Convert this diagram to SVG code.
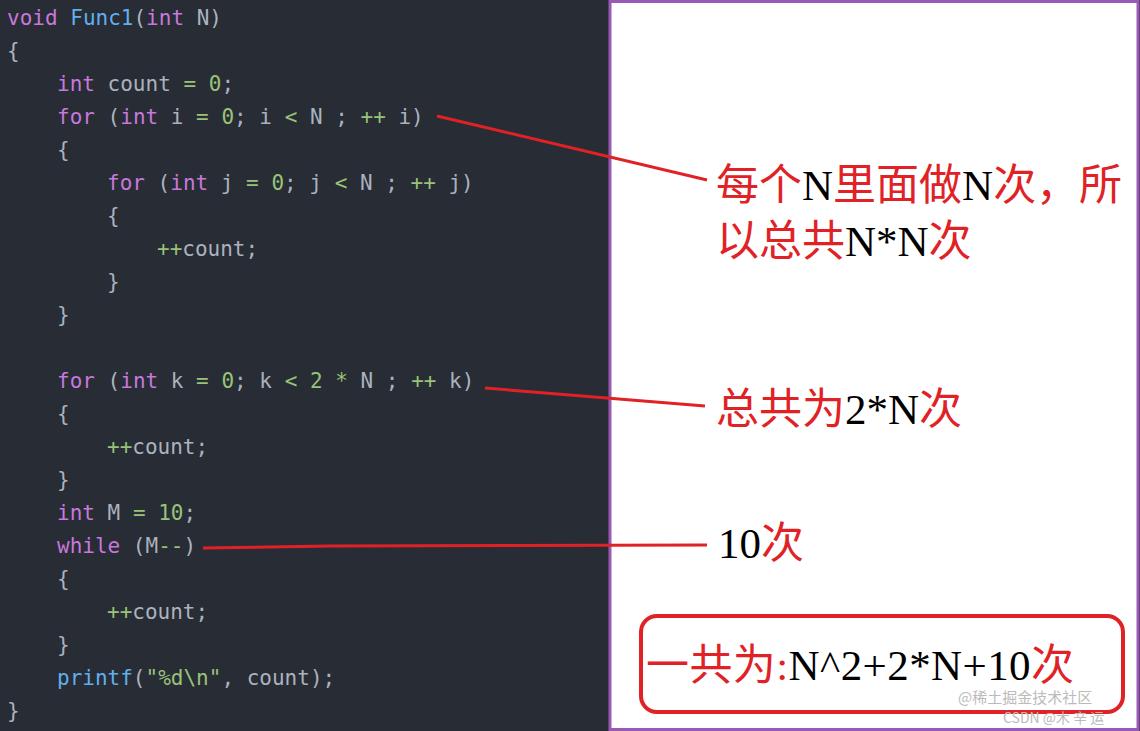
<svg xmlns="http://www.w3.org/2000/svg" width="1140" height="731" viewBox="0 0 1140 731">
<style>
.c{font-family:"DejaVu Sans Mono","Liberation Mono",monospace;font-size:21px;fill:#abb2bf;white-space:pre}
.k{fill:#c678dd}.f{fill:#61afef}.n{fill:#98c379}
.a{font-family:"Liberation Serif","Noto Sans CJK SC",serif;font-size:43px;fill:#000}
.r{fill:#e02226}
.ln{stroke:#e02226;stroke-width:3;fill:none}
</style>
<rect width="1140" height="731" fill="#282c34"/>
<rect x="610" y="1.5" width="528" height="728" fill="#fff" stroke="#9b59b6" stroke-width="3"/>
<g id="code">
<text class="c" x="7" y="25"><tspan class="k">void</tspan> <tspan class="f">Func1</tspan>(<tspan class="k">int</tspan> N)</text>
<text class="c" x="7" y="58">{</text>
<text class="c" x="57" y="91"><tspan class="k">int</tspan> count <tspan class="n">=</tspan> <tspan class="n">0</tspan>;</text>
<text class="c" x="57" y="124"><tspan class="k">for</tspan> (<tspan class="k">int</tspan> i <tspan class="n">=</tspan> <tspan class="n">0</tspan>; i <tspan class="n">&lt;</tspan> N ; <tspan class="n">++</tspan> i)</text>
<text class="c" x="57" y="157">{</text>
<text class="c" x="107" y="190"><tspan class="k">for</tspan> (<tspan class="k">int</tspan> j <tspan class="n">=</tspan> <tspan class="n">0</tspan>; j <tspan class="n">&lt;</tspan> N ; <tspan class="n">++</tspan> j)</text>
<text class="c" x="107" y="223">{</text>
<text class="c" x="157" y="256"><tspan class="n">++</tspan>count;</text>
<text class="c" x="107" y="289">}</text>
<text class="c" x="57" y="322">}</text>
<text class="c" x="57" y="388"><tspan class="k">for</tspan> (<tspan class="k">int</tspan> k <tspan class="n">=</tspan> <tspan class="n">0</tspan>; k <tspan class="n">&lt;</tspan> <tspan class="n">2</tspan> <tspan class="n">*</tspan> N ; <tspan class="n">++</tspan> k)</text>
<text class="c" x="57" y="421">{</text>
<text class="c" x="107" y="454"><tspan class="n">++</tspan>count;</text>
<text class="c" x="57" y="487">}</text>
<text class="c" x="57" y="520"><tspan class="k">int</tspan> M <tspan class="n">=</tspan> <tspan class="n">10</tspan>;</text>
<text class="c" x="57" y="553"><tspan class="k">while</tspan> (M<tspan class="n">--</tspan>)</text>
<text class="c" x="57" y="586">{</text>
<text class="c" x="107" y="619"><tspan class="n">++</tspan>count;</text>
<text class="c" x="57" y="652">}</text>
<text class="c" x="57" y="685"><tspan class="f">printf</tspan>(<tspan class="n">"%d\n"</tspan>, count);</text>
<text class="c" x="7" y="718">}</text>
</g>
<g id="connectors">
<line class="ln" x1="437" y1="116" x2="707" y2="180"/>
<line class="ln" x1="485" y1="388" x2="705" y2="406"/>
<polyline class="ln" points="203,548 330,546 707,545"/>
</g>
<g id="note1">
<text class="a" x="716" y="200"><tspan class="r">每个</tspan>N<tspan class="r">里面做</tspan>N<tspan class="r">次，所</tspan></text>
<text class="a" x="716" y="256"><tspan class="r">以总共</tspan>N*N<tspan class="r">次</tspan></text>
</g>
<g id="note2"><text class="a" x="716" y="424"><tspan class="r">总共为</tspan>2*N<tspan class="r">次</tspan></text></g>
<g id="note3"><text class="a" x="718" y="558">10<tspan class="r">次</tspan></text></g>
<g id="total">
<rect x="641" y="616" width="482" height="96" rx="16" fill="none" stroke="#e02226" stroke-width="4"/>
<text class="a" x="646" y="680" textLength="428" lengthAdjust="spacing"><tspan class="r">一共为:</tspan>N^2+2*N+10<tspan class="r">次</tspan></text>
</g>
<text x="958" y="703" font-family="Noto Sans CJK SC,sans-serif" font-size="15" fill="#bbb">@稀土掘金技术社区</text>
<text x="1003" y="723" font-family="Noto Sans CJK SC,sans-serif" font-size="14" fill="#bbb">CSDN @木 辛 运</text>
</svg>
